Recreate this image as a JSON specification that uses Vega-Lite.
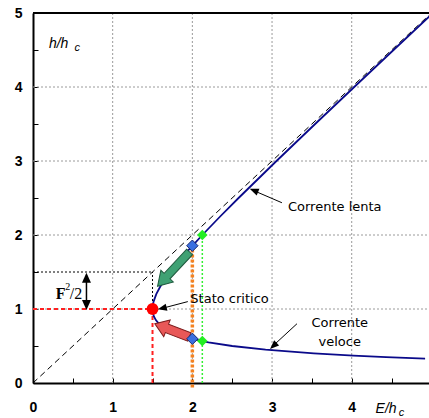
{
  "$schema": "https://vega.github.io/schema/vega-lite/v6.json",
  "autosize": {"type": "none"},
  "padding": {"left": 33, "top": 13, "right": 0, "bottom": 35},
  "width": 396,
  "height": 370,
  "background": "white",
  "config": {"view": {"stroke": null}},
  "datasets": {
    "curve": [
      {"x": 4.921, "y": 0.33}, {"x": 4.4316, "y": 0.35}, {"x": 4.022, "y": 0.37}, {"x": 3.525, "y": 0.4},
      {"x": 2.919, "y": 0.45}, {"x": 2.5, "y": 0.5}, {"x": 2.2029, "y": 0.55}, {"x": 1.9889, "y": 0.6},
      {"x": 1.8334, "y": 0.65}, {"x": 1.7204, "y": 0.7}, {"x": 1.6389, "y": 0.75}, {"x": 1.58125, "y": 0.8},
      {"x": 1.542, "y": 0.85}, {"x": 1.5173, "y": 0.9}, {"x": 1.504, "y": 0.95}, {"x": 1.5, "y": 1.0},
      {"x": 1.5035, "y": 1.05}, {"x": 1.5132, "y": 1.1}, {"x": 1.5472, "y": 1.2}, {"x": 1.5959, "y": 1.3},
      {"x": 1.6551, "y": 1.4}, {"x": 1.7222, "y": 1.5}, {"x": 1.7953, "y": 1.6}, {"x": 1.9543, "y": 1.8},
      {"x": 2.125, "y": 2.0}, {"x": 2.3488, "y": 2.25}, {"x": 2.58, "y": 2.5}, {"x": 3.0556, "y": 3.0},
      {"x": 3.5408, "y": 3.5}, {"x": 4.0313, "y": 4.0}, {"x": 4.5247, "y": 4.5}, {"x": 5.02, "y": 5.0}
    ]
  },
  "encoding": {
    "x": {
      "field": "x", "type": "quantitative",
      "scale": {"domain": [0, 4.97], "nice": false, "zero": false},
      "axis": {
        "title": null,
        "values": [0, 0.5, 1, 1.5, 2, 2.5, 3, 3.5, 4, 4.5],
        "labelExpr": "datum.value % 1 === 0 ? format(datum.value, 'd') : ''",
        "grid": false,
        "domainColor": "black", "domainWidth": 2,
        "tickColor": "black", "tickSize": -5, "tickWidth": 1,
        "labelFont": "Liberation Sans", "labelFontWeight": "bold", "labelFontSize": 14,
        "labelColor": "black", "labelPadding": 22, "labelFlush": false
      }
    },
    "y": {
      "field": "y", "type": "quantitative",
      "scale": {"domain": [0, 5], "nice": false, "zero": false},
      "axis": {
        "title": null,
        "values": [0, 0.5, 1, 1.5, 2, 2.5, 3, 3.5, 4, 4.5, 5],
        "labelExpr": "datum.value % 1 === 0 ? format(datum.value, 'd') : ''",
        "grid": false,
        "domainColor": "black", "domainWidth": 2,
        "tickColor": "black", "tickSize": -5, "tickWidth": 1,
        "labelFont": "Liberation Sans", "labelFontWeight": "bold", "labelFontSize": 14,
        "labelColor": "black", "labelPadding": 16, "labelFlush": false
      }
    }
  },
  "layer": [
    {
      "data": {"values": [
        {"x": 1, "y": 0, "x2": 1, "y2": 5}, {"x": 2, "y": 0, "x2": 2, "y2": 5},
        {"x": 3, "y": 0, "x2": 3, "y2": 5}, {"x": 4, "y": 0, "x2": 4, "y2": 5},
        {"x": 0, "y": 1, "x2": 4.97, "y2": 1}, {"x": 0, "y": 2, "x2": 4.97, "y2": 2},
        {"x": 0, "y": 3, "x2": 4.97, "y2": 3}, {"x": 0, "y": 4, "x2": 4.97, "y2": 4}
      ]},
      "mark": {"type": "rule", "color": "#9a9a9a", "strokeWidth": 1, "strokeDash": [2, 2]},
      "encoding": {"x2": {"field": "x2"}, "y2": {"field": "y2"}}
    },
    {
      "data": {"values": [{"x": 0, "y": 0, "x2": 4.97, "y2": 4.97}]},
      "mark": {"type": "rule", "color": "black", "strokeWidth": 1, "strokeDash": [6, 4]},
      "encoding": {"x2": {"field": "x2"}, "y2": {"field": "y2"}}
    },
    {
      "data": {"values": [{"x": 0, "y": 1.5, "x2": 1.5, "y2": 1.5}, {"x": 1.5, "y": 1.0, "x2": 1.5, "y2": 1.5}]},
      "mark": {"type": "rule", "color": "black", "strokeWidth": 1, "strokeDash": [2, 2]},
      "encoding": {"x2": {"field": "x2"}, "y2": {"field": "y2"}}
    },
    {
      "data": {"values": [{"x": 0, "y": 1.0, "x2": 1.5, "y2": 1.0}, {"x": 1.5, "y": 0, "x2": 1.5, "y2": 1.0}]},
      "mark": {"type": "rule", "color": "#ff2020", "strokeWidth": 2, "strokeDash": [4, 3]},
      "encoding": {"x2": {"field": "x2"}, "y2": {"field": "y2"}}
    },
    {
      "data": {"values": [{"x": 2.0, "y": -0.06, "x2": 2.0, "y2": 1.84}]},
      "mark": {"type": "rule", "color": "#f58220", "strokeWidth": 3.5, "strokeDash": [3, 2], "clip": false},
      "encoding": {"x2": {"field": "x2"}, "y2": {"field": "y2"}}
    },
    {
      "data": {"values": [{"x": 2.125, "y": 0, "x2": 2.125, "y2": 2.0}]},
      "mark": {"type": "rule", "color": "#33ee33", "strokeWidth": 1.5, "strokeDash": [2, 2]},
      "encoding": {"x2": {"field": "x2"}, "y2": {"field": "y2"}}
    },
    {
      "data": {"name": "curve"},
      "mark": {"type": "line", "color": "#0a0a8a", "strokeWidth": 1.8, "clip": true},
      "encoding": {"order": {"field": "y", "type": "quantitative"}}
    },
    {
      "data": {"values": [{"x": 0, "y": 5, "x2": 4.97}]},
      "mark": {"type": "rule", "color": "black", "strokeWidth": 2},
      "encoding": {"x2": {"field": "x2"}}
    },
    {
      "data": {"values": [{"x": 1.563, "y": 1.306}]},
      "mark": {"type": "point", "filled": true, "shape": "M 0 0 L 0.85 1.4 L 0.4 1.4 L 0.4 4.7 L -0.4 4.7 L -0.4 1.4 L -0.85 1.4 Z", "size": 400, "angle": 223, "fill": "#3fa173", "stroke": "#1f5a3e", "strokeWidth": 1, "opacity": 1}
    },
    {
      "data": {"values": [{"x": 1.529, "y": 0.801}]},
      "mark": {"type": "point", "filled": true, "shape": "M 0 0 L 0.9 1.3 L 0.45 1.3 L 0.45 3.7 L -0.45 3.7 L -0.45 1.3 L -0.9 1.3 Z", "size": 400, "angle": 291, "fill": "#e85858", "stroke": "#7a1a1a", "strokeWidth": 1, "opacity": 1}
    },
    {
      "data": {"values": [{"x": 2.0, "y": 1.855}, {"x": 2.0, "y": 0.597}]},
      "mark": {"type": "point", "filled": true, "shape": "diamond", "size": 130, "fill": "#3a6fe0", "stroke": "#1a2a70", "strokeWidth": 1, "opacity": 1}
    },
    {
      "data": {"values": [{"x": 2.125, "y": 2.0}, {"x": 2.125, "y": 0.566}]},
      "mark": {"type": "point", "filled": true, "shape": "diamond", "size": 110, "fill": "#22ee22", "opacity": 1}
    },
    {
      "data": {"values": [{"x": 1.5, "y": 1.0}]},
      "mark": {"type": "point", "filled": true, "shape": "circle", "size": 140, "fill": "#ff0000", "opacity": 1}
    },
    {
      "data": {"values": [{"x": 0.671, "y": 1.04, "y2": 1.45}]},
      "mark": {"type": "rule", "color": "black", "strokeWidth": 1.5},
      "encoding": {"y2": {"field": "y2"}}
    },
    {
      "data": {"values": [{"x": 0.671, "y": 1.49}]},
      "mark": {"type": "point", "filled": true, "shape": "M 0 0 L 0.45 1 L -0.45 1 Z", "size": 400, "angle": 0, "fill": "black", "opacity": 1}
    },
    {
      "data": {"values": [{"x": 0.671, "y": 0.985}]},
      "mark": {"type": "point", "filled": true, "shape": "M 0 0 L 0.45 1 L -0.45 1 Z", "size": 400, "angle": 180, "fill": "black", "opacity": 1}
    },
    {
      "data": {"values": [{"x": 1.943, "y": 1.1, "x2": 1.6, "y2": 1.003}]},
      "mark": {"type": "rule", "color": "black", "strokeWidth": 1},
      "encoding": {"x2": {"field": "x2"}, "y2": {"field": "y2"}}
    },
    {
      "data": {"values": [{"x": 1.567, "y": 0.995}]},
      "mark": {"type": "point", "filled": true, "shape": "M 0 0 L 0.4 1 L -0.4 1 Z", "size": 324, "angle": 256, "fill": "black", "opacity": 1}
    },
    {
      "data": {"values": [{"x": 3.124, "y": 2.436, "x2": 2.77, "y2": 2.60}]},
      "mark": {"type": "rule", "color": "black", "strokeWidth": 1},
      "encoding": {"x2": {"field": "x2"}, "y2": {"field": "y2"}}
    },
    {
      "data": {"values": [{"x": 2.72, "y": 2.625}]},
      "mark": {"type": "point", "filled": true, "shape": "M 0 0 L 0.4 1 L -0.4 1 Z", "size": 324, "angle": 292, "fill": "black", "opacity": 1}
    },
    {
      "data": {"values": [{"x": 3.313, "y": 0.801, "x2": 3.01, "y2": 0.50}]},
      "mark": {"type": "rule", "color": "black", "strokeWidth": 1},
      "encoding": {"x2": {"field": "x2"}, "y2": {"field": "y2"}}
    },
    {
      "data": {"values": [{"x": 2.975, "y": 0.46}]},
      "mark": {"type": "point", "filled": true, "shape": "M 0 0 L 0.4 1 L -0.4 1 Z", "size": 324, "angle": 227, "fill": "black", "opacity": 1}
    },
    {
      "data": {"values": [{"x": 1.975, "y": 1.14, "t": "Stato critico"}, {"x": 3.2, "y": 2.38, "t": "Corrente lenta"}]},
      "mark": {"type": "text", "align": "left", "baseline": "middle", "font": "DejaVu Sans", "fontSize": 13, "color": "black"},
      "encoding": {"text": {"field": "t"}}
    },
    {
      "data": {"values": [{"x": 3.85, "y": 0.815, "t": "Corrente"}, {"x": 3.85, "y": 0.555, "t": "veloce"}]},
      "mark": {"type": "text", "align": "center", "baseline": "middle", "font": "DejaVu Sans", "fontSize": 13, "color": "black"},
      "encoding": {"text": {"field": "t"}}
    },
    {
      "data": {"values": [{"x": 0.348, "y": 1.2, "t": "F"}]},
      "mark": {"type": "text", "align": "center", "baseline": "middle", "font": "Liberation Serif", "fontWeight": "bold", "fontSize": 16, "color": "black"},
      "encoding": {"text": {"field": "t"}}
    },
    {
      "data": {"values": [{"x": 0.435, "y": 1.3, "t": "2"}]},
      "mark": {"type": "text", "align": "center", "baseline": "middle", "font": "Liberation Serif", "fontSize": 10, "color": "black"},
      "encoding": {"text": {"field": "t"}}
    },
    {
      "data": {"values": [{"x": 0.54, "y": 1.2, "t": "/2"}]},
      "mark": {"type": "text", "align": "center", "baseline": "middle", "font": "Liberation Serif", "fontSize": 16, "color": "black"},
      "encoding": {"text": {"field": "t"}}
    },
    {
      "data": {"values": [{"x": 0.2, "y": 4.58, "t": "h/h"}]},
      "mark": {"type": "text", "align": "left", "baseline": "middle", "font": "Liberation Sans", "fontStyle": "italic", "fontSize": 14, "color": "black"},
      "encoding": {"text": {"field": "t"}}
    },
    {
      "data": {"values": [{"x": 0.52, "y": 4.53, "t": "c"}]},
      "mark": {"type": "text", "align": "left", "baseline": "middle", "font": "Liberation Sans", "fontStyle": "italic", "fontSize": 11, "color": "black"},
      "encoding": {"text": {"field": "t"}}
    },
    {
      "data": {"values": [{"x": 4.3, "y": -0.35, "t": "E/h"}]},
      "mark": {"type": "text", "align": "left", "baseline": "middle", "font": "Liberation Sans", "fontStyle": "italic", "fontSize": 14, "color": "black", "clip": false},
      "encoding": {"text": {"field": "t"}}
    },
    {
      "data": {"values": [{"x": 4.59, "y": -0.4, "t": "c"}]},
      "mark": {"type": "text", "align": "left", "baseline": "middle", "font": "Liberation Sans", "fontStyle": "italic", "fontSize": 11, "color": "black", "clip": false},
      "encoding": {"text": {"field": "t"}}
    }
  ]
}
